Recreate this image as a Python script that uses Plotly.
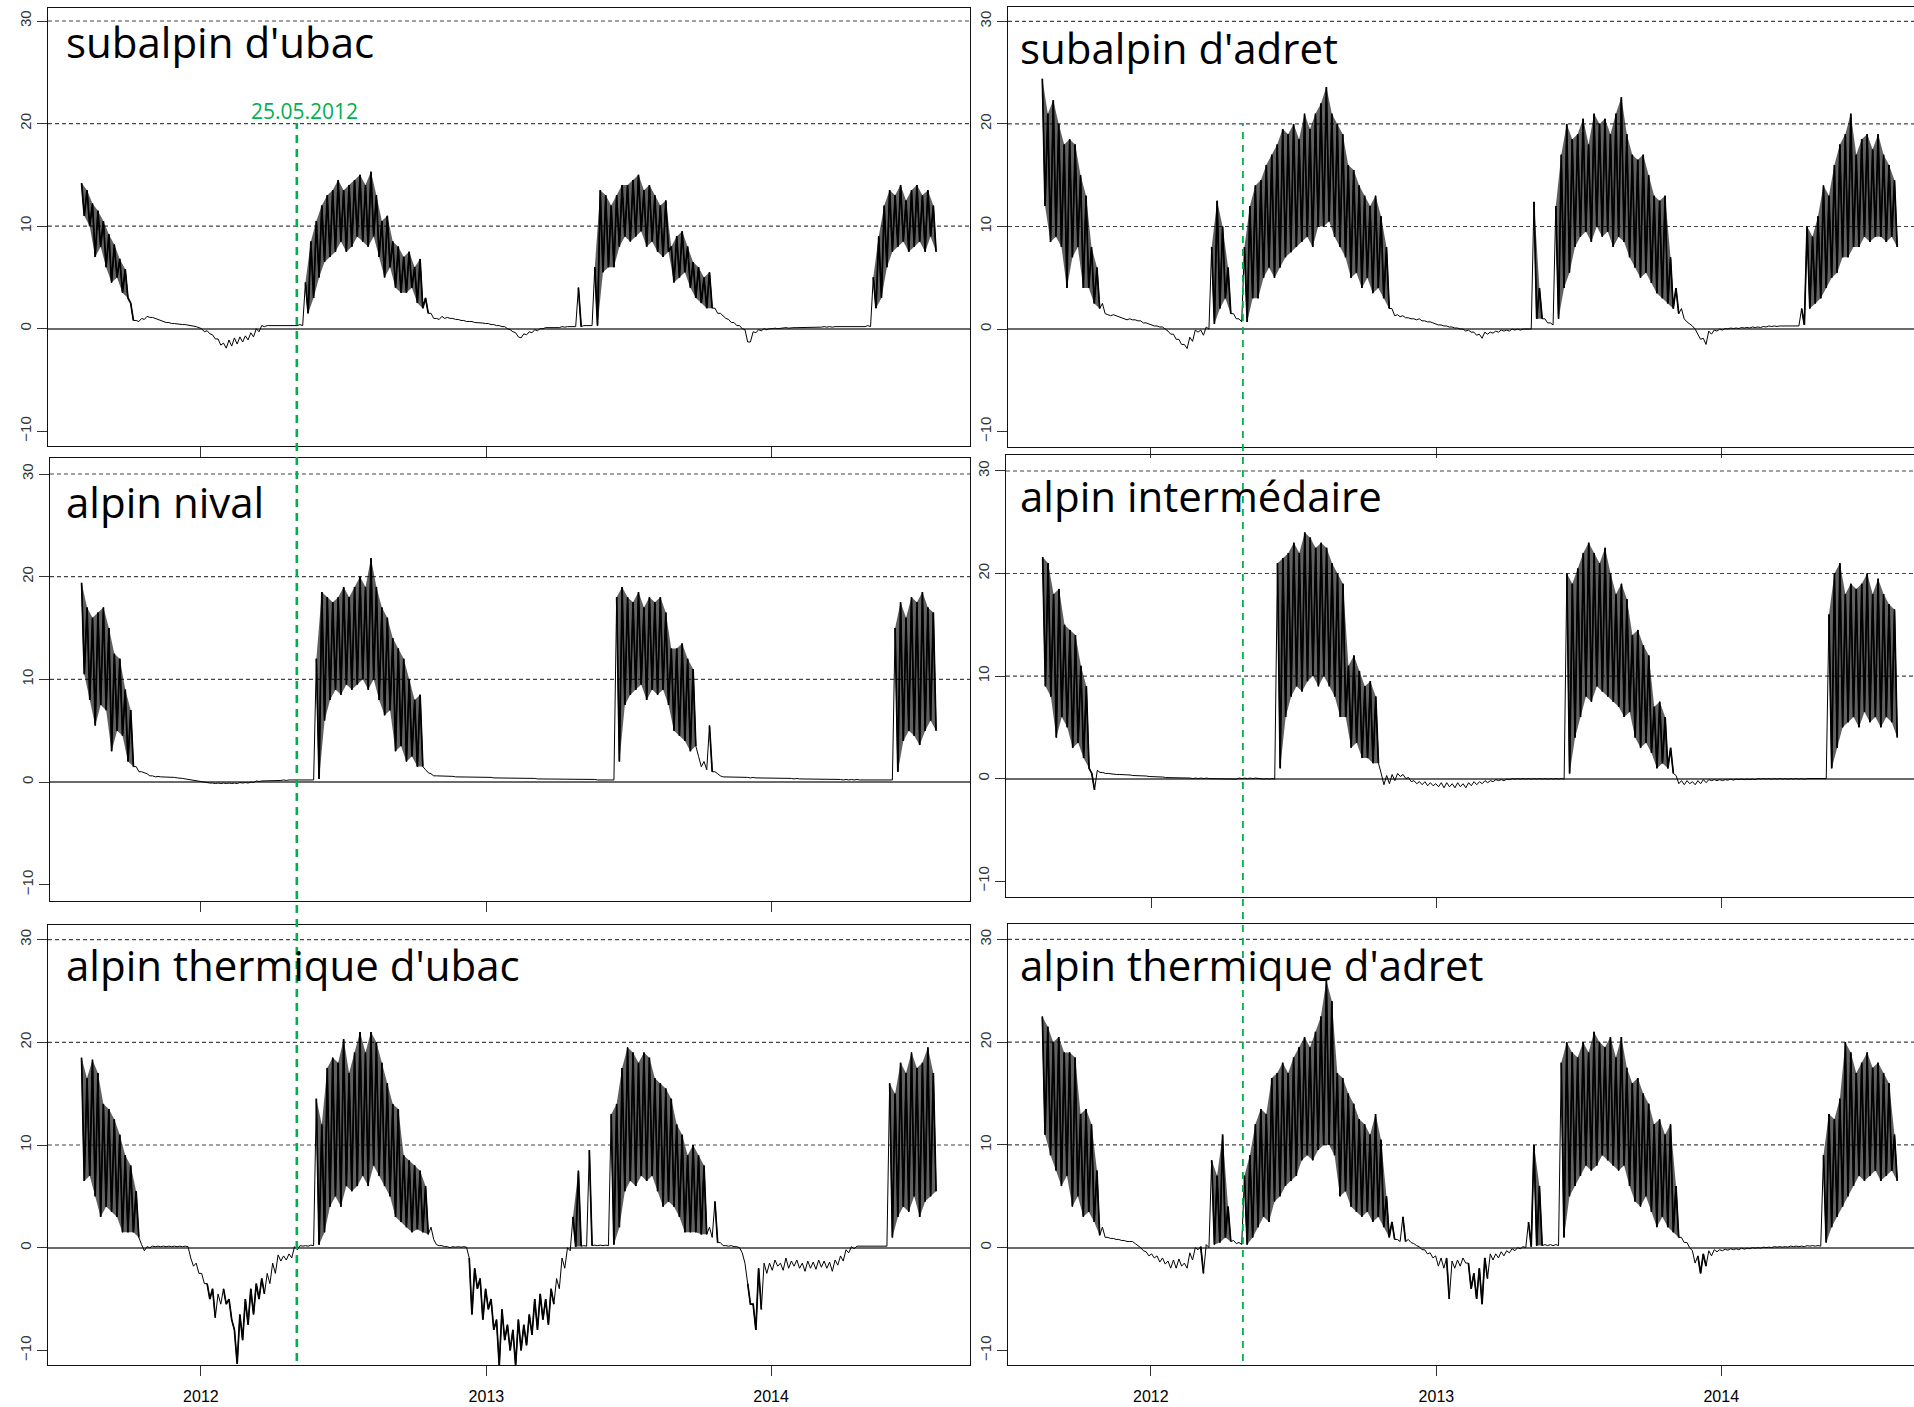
import pandas as pd
import plotly.graph_objects as go

# ---------------- data: weekly max / min soil temperature (°C) ----------------
weeks = pd.date_range("2011-08-01", periods=159, freq="7D")
half_week = pd.Timedelta(hours=84)

titles = ["subalpin d'ubac", "subalpin d'adret", "alpin nival",
          "alpin intermédaire", "alpin thermique d'ubac", "alpin thermique d'adret"]

event_label = "25.05.2012"
event_pos_left = "2012-05-03"
event_pos_right = "2012-04-28"

tick_years = ["2012-01-01", "2013-01-01", "2014-01-01"]
tick_text = ["2012", "2013", "2014"]
y_ticks = [-10, 0, 10, 20, 30]
dashed_levels = [10, 20, 30]

subalpin_ubac_hi = [
    14.2, 13.5, 12.2, 11.5, 10.5, 9.2, 8.2, 6.8, 5.8, 2.5,
    0.8, 1.0, 1.2, 1.1, 0.9, 0.7, 0.6, 0.5, 0.45, 0.4,
    0.3, 0.2, 0.0, -0.2, -0.6, -1.0, -1.4, -1.1, -0.9, -0.8,
    -0.7, -0.4, 0.0, 0.3, 0.3, 0.3, 0.3, 0.3, 0.3, 0.3,
    0.4, 4.5, 8.5, 10.5, 12.0, 13.0, 13.5, 14.5, 13.5, 14.0,
    14.5, 15.0, 14.0, 15.3, 13.0, 10.5, 11.0, 8.5, 8.0, 7.0,
    7.5, 6.0, 6.8, 3.0, 1.5, 1.0, 1.2, 1.1, 1.0, 0.9,
    0.8, 0.7, 0.6, 0.6, 0.5, 0.4, 0.3, 0.2, 0.0, -0.3,
    -0.8, -0.5, -0.3, -0.1, 0.0, 0.1, 0.1, 0.15, 0.2, 0.2,
    0.2, 4.0, 0.3, 0.3, 6.0, 13.5, 13.0, 12.0, 13.0, 14.0,
    14.0, 14.5, 15.0, 13.5, 14.0, 13.0, 12.0, 12.5, 8.0, 9.0,
    9.5, 8.0, 6.5, 6.0, 5.0, 5.5, 2.0, 1.5, 1.0, 0.6,
    0.3, 0.0, -1.3, -0.3, -0.1, 0.0, 0.0, 0.05, 0.05, 0.1,
    0.1, 0.1, 0.1, 0.15, 0.15, 0.15, 0.2, 0.2, 0.2, 0.2,
    0.2, 0.2, 0.2, 0.2, 0.3, 5.0, 9.0, 12.0, 13.5, 13.0,
    14.0, 12.5, 13.5, 14.0, 13.0, 13.5, 12.0, None, None]
subalpin_ubac_lo = [
    11.0, 10.0, 7.0, 8.0, 6.0, 4.5, 5.0, 3.5, 3.0, 0.8,
    0.7, 0.9, 1.1, 1.0, 0.8, 0.6, 0.5, 0.45, 0.4, 0.35,
    0.3, 0.1, -0.3, -0.5, -1.0, -1.6, -1.9, -1.7, -1.5, -1.3,
    -1.1, -0.8, -0.3, 0.2, 0.3, 0.3, 0.3, 0.3, 0.3, 0.3,
    0.3, 1.5, 3.0, 5.0, 6.5, 7.0, 7.5, 8.5, 7.5, 8.0,
    9.0, 8.5, 8.0, 9.0, 7.0, 5.0, 6.0, 4.0, 3.5, 3.5,
    4.0, 2.5, 2.0, 1.5, 1.0, 0.9, 1.0, 1.0, 0.9, 0.8,
    0.7, 0.7, 0.6, 0.55, 0.5, 0.4, 0.3, 0.2, -0.1, -0.4,
    -0.9, -0.6, -0.4, -0.2, 0.0, 0.1, 0.1, 0.1, 0.15, 0.2,
    0.2, 0.2, 0.3, 0.3, 0.3, 5.5, 6.0, 6.0, 8.0, 9.0,
    8.5, 9.0, 9.5, 8.0, 8.5, 7.5, 7.0, 7.5, 4.5, 5.0,
    5.5, 4.0, 3.0, 2.5, 2.0, 2.0, 1.5, 1.2, 0.9, 0.6,
    0.3, -0.1, -1.3, -0.4, -0.2, -0.1, 0.0, 0.0, 0.05, 0.05,
    0.1, 0.1, 0.1, 0.1, 0.15, 0.15, 0.15, 0.15, 0.2, 0.2,
    0.2, 0.2, 0.2, 0.2, 0.2, 2.0, 3.0, 6.0, 7.5, 8.0,
    8.5, 7.5, 8.0, 8.5, 7.5, 9.0, 7.5, None, None]

subalpin_adret_hi = [
    None, None, 24.4, 21.0, 22.3, 20.0, 18.0, 18.5, 18.0, 15.0,
    13.0, 8.0, 6.0, 2.5, 1.4, 1.4, 1.2, 1.0, 1.0, 0.9,
    0.8, 0.6, 0.4, 0.3, 0.2, -0.2, -0.5, -1.0, -1.5, -0.8,
    -0.1, -0.1, 0.2, 8.0, 12.5, 10.0, 6.0, 1.5, 1.0, 8.0,
    12.0, 14.0, 14.5, 16.0, 17.0, 18.0, 19.5, 19.0, 20.0, 18.5,
    21.0, 19.5, 21.0, 22.0, 23.6, 21.0, 20.0, 19.0, 16.0, 15.5,
    14.0, 13.0, 12.0, 13.0, 11.0, 8.0, 2.0, 1.4, 1.3, 1.1,
    1.0, 1.0, 0.8, 0.7, 0.5, 0.4, 0.3, 0.2, 0.1, 0.0,
    -0.1, -0.3, -0.5, -0.3, -0.3, -0.2, -0.1, -0.1, 0.0, 0.0,
    0.0, 0.0, 12.4, 4.0, 1.0, 0.6, 12.0, 17.0, 20.0, 18.5,
    19.0, 20.5, 18.0, 21.0, 20.0, 20.5, 19.0, 21.0, 22.6, 19.0,
    17.0, 16.5, 17.0, 15.0, 13.0, 12.5, 13.0, 7.0, 4.0, 2.0,
    0.7, 0.3, -0.5, -0.9, -0.2, -0.1, 0.0, 0.05, 0.1, 0.1,
    0.15, 0.15, 0.2, 0.2, 0.25, 0.3, 0.3, 0.3, 0.35, 0.35,
    0.35, 2.0, 10.0, 9.0, 11.0, 14.0, 13.0, 16.0, 18.0, 19.0,
    21.0, 17.0, 18.5, 19.0, 17.5, 19.0, 17.0, 16.0, 14.5]
subalpin_adret_lo = [
    None, None, 12.0, 8.5, 9.0, 8.0, 4.0, 7.0, 8.0, 4.0,
    4.0, 2.5, 2.0, 1.5, 1.3, 1.3, 1.1, 0.9, 0.9, 0.8,
    0.6, 0.5, 0.3, 0.2, 0.0, -0.5, -1.0, -1.5, -1.9, -1.2,
    -0.3, -0.6, 0.0, 0.5, 2.0, 3.0, 1.5, 1.0, 0.7, 0.7,
    3.0, 3.0, 5.0, 6.0, 5.0, 6.0, 7.0, 7.5, 8.0, 8.5,
    9.0, 8.0, 10.0, 10.0, 10.5, 9.0, 8.0, 7.0, 5.0, 5.5,
    4.0, 5.0, 3.5, 4.0, 3.0, 2.0, 1.3, 1.2, 1.1, 1.0,
    0.9, 0.8, 0.7, 0.6, 0.4, 0.3, 0.2, 0.1, 0.0, -0.2,
    -0.3, -0.6, -0.9, -0.5, -0.4, -0.3, -0.2, -0.2, -0.1, -0.1,
    0.0, 0.0, 1.0, 1.0, 0.6, 0.4, 1.0, 4.0, 5.5, 8.0,
    9.0, 9.5, 8.5, 10.0, 9.0, 9.5, 8.0, 9.0, 8.5, 7.0,
    6.0, 5.0, 5.5, 4.5, 3.5, 3.0, 2.5, 2.0, 1.5, 1.0,
    0.5, 0.0, -1.0, -1.5, -0.5, -0.2, -0.1, 0.0, 0.05, 0.05,
    0.1, 0.1, 0.15, 0.15, 0.2, 0.25, 0.25, 0.3, 0.3, 0.3,
    0.3, 0.4, 2.0, 2.5, 3.0, 4.0, 5.0, 5.5, 7.0, 7.0,
    8.0, 8.0, 9.0, 8.5, 9.0, 9.0, 8.5, 9.0, 8.0]

alpin_nival_hi = [
    19.4, 17.0, 16.0, 16.5, 17.0, 15.0, 12.5, 12.0, 9.0, 7.0,
    1.5, 1.0, 0.8, 0.6, 0.55, 0.5, 0.5, 0.45, 0.4, 0.3,
    0.2, 0.1, 0.0, -0.05, -0.1, -0.1, -0.1, -0.1, -0.1, -0.05,
    -0.05, 0.0, 0.1, 0.1, 0.15, 0.15, 0.15, 0.2, 0.2, 0.2,
    0.2, 0.2, 0.2, 12.0, 18.5, 18.0, 17.5, 18.0, 19.0, 18.0,
    19.0, 20.0, 19.0, 21.8, 19.0, 17.0, 16.0, 14.0, 13.0, 12.0,
    10.0, 8.0, 8.5, 1.2, 0.8, 0.6, 0.6, 0.55, 0.55, 0.5,
    0.5, 0.5, 0.5, 0.45, 0.45, 0.45, 0.4, 0.4, 0.4, 0.4,
    0.35, 0.35, 0.35, 0.35, 0.3, 0.3, 0.3, 0.3, 0.3, 0.3,
    0.25, 0.25, 0.25, 0.25, 0.25, 0.2, 0.2, 0.2, 18.0, 19.0,
    18.0, 17.5, 18.5, 17.0, 18.0, 17.5, 18.0, 16.5, 13.0, 13.0,
    13.5, 12.0, 11.0, 2.5, 2.0, 5.5, 1.0, 0.6, 0.5, 0.5,
    0.5, 0.45, 0.45, 0.45, 0.4, 0.4, 0.4, 0.4, 0.35, 0.35,
    0.35, 0.35, 0.3, 0.3, 0.3, 0.3, 0.3, 0.3, 0.25, 0.25,
    0.25, 0.25, 0.25, 0.2, 0.2, 0.2, 0.2, 0.2, 0.2, 15.0,
    17.5, 16.0, 18.0, 17.5, 18.5, 17.0, 16.5, None, None]
alpin_nival_lo = [
    10.5, 8.0, 5.5, 7.5, 7.0, 3.0, 5.0, 4.5, 2.0, 1.5,
    1.0, 0.9, 0.6, 0.5, 0.5, 0.5, 0.45, 0.4, 0.35, 0.25,
    0.15, 0.05, -0.05, -0.1, -0.15, -0.15, -0.15, -0.15, -0.15, -0.1,
    -0.1, -0.05, 0.05, 0.1, 0.1, 0.15, 0.15, 0.15, 0.2, 0.2,
    0.2, 0.2, 0.2, 0.3, 6.0, 8.0, 9.0, 8.5, 9.5, 9.0,
    9.5, 10.0, 9.0, 10.0, 8.0, 6.5, 7.0, 3.0, 3.5, 2.0,
    2.5, 1.5, 1.5, 0.9, 0.6, 0.6, 0.55, 0.55, 0.5, 0.5,
    0.5, 0.5, 0.45, 0.45, 0.45, 0.4, 0.4, 0.4, 0.4, 0.35,
    0.35, 0.35, 0.35, 0.3, 0.3, 0.3, 0.3, 0.3, 0.3, 0.25,
    0.25, 0.25, 0.25, 0.25, 0.2, 0.2, 0.2, 0.2, 2.0, 7.5,
    8.5, 9.0, 9.5, 8.0, 9.0, 8.5, 9.0, 7.5, 5.0, 4.5,
    4.0, 3.0, 3.5, 1.5, 1.2, 1.0, 0.8, 0.5, 0.5, 0.45,
    0.45, 0.45, 0.4, 0.4, 0.4, 0.4, 0.35, 0.35, 0.35, 0.35,
    0.3, 0.3, 0.3, 0.3, 0.3, 0.25, 0.25, 0.25, 0.25, 0.2,
    0.2, 0.2, 0.2, 0.2, 0.2, 0.2, 0.2, 0.2, 0.2, 1.0,
    4.0, 5.0, 4.5, 3.6, 5.0, 6.0, 5.0, None, None]

alpin_inter_hi = [
    None, None, 21.6, 21.0, 18.0, 18.5, 15.0, 14.5, 14.0, 11.0,
    9.0, 0.5, 0.8, 0.6, 0.5, 0.45, 0.4, 0.4, 0.35, 0.3,
    0.3, 0.25, 0.2, 0.2, 0.15, 0.1, 0.1, 0.1, 0.05, 0.05,
    0.05, 0.05, 0.05, 0.0, 0.0, 0.0, 0.0, 0.0, 0.05, 0.05,
    0.05, 0.05, 0.0, 0.0, 0.0, 21.0, 21.5, 22.0, 23.0, 22.0,
    24.0, 23.5, 22.5, 23.0, 22.5, 21.0, 20.0, 19.0, 11.0, 12.0,
    10.5, 9.0, 9.5, 8.0, 0.5, 0.3, 0.4, 0.5, 0.4, 0.1,
    -0.2, -0.3, -0.3, -0.4, -0.5, -0.4, -0.4, -0.5, -0.4, -0.5,
    -0.4, -0.3, -0.3, -0.2, -0.2, -0.1, -0.1, -0.05, 0.0, 0.0,
    0.0, 0.0, 0.0, 0.0, 0.0, 0.0, 0.0, 0.0, 20.0, 19.0,
    20.5, 22.0, 23.0, 22.0, 21.0, 22.5, 20.0, 18.0, 19.0, 17.5,
    14.0, 14.5, 13.0, 12.0, 7.0, 7.5, 6.0, 3.0, 0.3, -0.2,
    -0.2, -0.3, -0.2, -0.1, -0.1, -0.1, -0.1, -0.1, -0.05, -0.05,
    -0.05, -0.05, -0.05, 0.0, 0.0, 0.0, 0.0, 0.0, 0.0, 0.0,
    0.0, 0.0, 0.0, 0.0, 0.0, 0.0, 16.0, 20.0, 21.0, 18.0,
    19.0, 18.5, 19.0, 20.0, 18.0, 19.5, 18.0, 17.0, 16.5]
alpin_inter_lo = [
    None, None, 9.0, 8.0, 4.0, 6.0, 5.0, 3.0, 3.5, 2.0,
    1.0, -1.1, 0.6, 0.5, 0.45, 0.4, 0.4, 0.35, 0.3, 0.3,
    0.25, 0.2, 0.2, 0.15, 0.1, 0.1, 0.05, 0.05, 0.05, 0.0,
    0.0, 0.0, 0.0, -0.05, -0.05, -0.05, -0.05, -0.05, 0.0, 0.0,
    0.0, 0.0, -0.05, -0.05, -0.05, 1.0, 6.0, 8.0, 9.0, 8.5,
    9.5, 10.0, 9.0, 10.0, 9.0, 8.0, 6.0, 6.0, 3.0, 3.5,
    2.0, 2.0, 1.5, 1.5, -0.6, -0.5, -0.2, 0.2, 0.0, -0.3,
    -0.5, -0.6, -0.7, -0.7, -0.8, -0.9, -0.8, -0.9, -0.8, -0.9,
    -0.7, -0.6, -0.5, -0.4, -0.3, -0.2, -0.2, -0.1, -0.05, -0.05,
    -0.05, -0.05, -0.05, -0.05, -0.05, -0.05, -0.05, -0.05, 0.5, 4.0,
    6.0, 8.0, 7.5, 9.0, 8.5, 8.0, 7.5, 7.0, 6.0, 6.5,
    4.0, 3.0, 3.5, 2.5, 1.0, 1.5, 1.0, 0.5, -0.5, -0.6,
    -0.5, -0.6, -0.5, -0.4, -0.2, -0.2, -0.2, -0.15, -0.15, -0.1,
    -0.1, -0.1, -0.1, -0.05, -0.05, -0.05, -0.05, -0.05, -0.05, -0.05,
    -0.05, -0.05, 0.0, 0.0, 0.0, 0.0, 1.0, 3.0, 5.0, 5.5,
    6.0, 5.0, 6.5, 5.5, 6.0, 5.0, 6.0, 5.5, 4.0]

alpin_th_ubac_hi = [
    18.5, 16.5, 18.3, 17.0, 14.0, 13.5, 12.5, 11.0, 9.0, 8.0,
    5.5, 0.3, 0.1, 0.15, 0.15, 0.15, 0.15, 0.15, 0.15, 0.15,
    -1.0, -1.5, -2.5, -3.5, -4.0, -4.5, -4.0, -5.0, -8.0, -6.5,
    -5.0, -4.0, -3.5, -3.0, -2.5, -1.5, -0.7, -0.8, -0.6, 0.1,
    0.2, 0.2, 0.25, 14.5, 12.0, 17.5, 18.5, 18.0, 20.3, 17.0,
    19.0, 21.0, 19.0, 21.0, 20.0, 18.0, 16.0, 14.0, 13.5, 9.0,
    8.5, 8.0, 7.5, 6.0, 2.0, 0.3, 0.2, 0.1, 0.1, 0.1,
    0.1, -1.0, -2.0, -3.0, -4.0, -5.0, -7.0, -6.0, -7.5, -8.0,
    -7.0, -7.5, -6.5, -5.0, -4.5, -5.0, -4.0, -3.0, -1.0, 0.0,
    3.0, 7.5, 0.2, 9.5, 0.25, 0.25, 0.25, 13.0, 14.0, 17.5,
    19.5, 19.0, 18.0, 19.0, 18.5, 16.5, 16.0, 15.5, 14.5, 12.0,
    11.0, 9.0, 10.0, 9.0, 8.0, 2.0, 4.5, 0.5, 0.2, 0.2,
    0.1, -0.5, -3.5, -5.5, -2.0, -1.5, -1.5, -1.2, -1.5, -1.0,
    -1.3, -1.2, -1.5, -1.3, -1.4, -1.2, -1.3, -1.4, -1.2, -0.8,
    -0.2, 0.1, 0.15, 0.15, 0.15, 0.15, 0.15, 0.15, 16.0, 15.0,
    18.0, 17.0, 19.0, 17.5, 18.0, 19.5, 17.0, None, None]
alpin_th_ubac_lo = [
    6.5, 7.0, 5.0, 3.0, 4.0, 3.5, 3.0, 1.5, 1.5, 1.5,
    1.0, -0.3, 0.0, 0.1, 0.1, 0.1, 0.1, 0.1, 0.1, 0.1,
    -1.8, -2.5, -3.5, -5.0, -6.8, -5.5, -5.5, -7.0, -11.3, -9.0,
    -7.5, -6.5, -5.0, -4.5, -3.5, -2.5, -1.3, -1.2, -1.0, -0.2,
    0.15, 0.15, 0.2, 0.3, 1.5, 4.0, 5.0, 4.0, 6.0, 5.5,
    6.0, 7.0, 6.0, 8.0, 7.0, 6.0, 5.0, 3.0, 2.5, 2.0,
    1.5, 1.8, 1.5, 1.3, 0.8, 0.2, 0.1, 0.0, 0.05, 0.05,
    0.05, -6.5, -4.0, -7.0, -6.0, -8.0, -11.5, -9.0, -10.0, -11.5,
    -10.0, -9.5, -8.5, -8.0, -7.0, -7.5, -5.5, -4.0, -2.0, -0.3,
    0.1, 0.15, 0.15, 0.2, 0.2, 0.2, 0.2, 0.3, 2.0, 5.5,
    6.5, 6.0, 7.0, 6.5, 7.0, 5.5, 4.0, 4.5, 4.0, 3.0,
    1.5, 1.5, 1.5, 1.3, 1.3, 1.0, 0.5, 0.2, 0.15, 0.1,
    0.0, -1.5, -5.5, -8.0, -6.0, -2.5, -2.2, -1.8, -2.2, -2.0,
    -1.8, -2.0, -2.3, -2.0, -2.1, -1.9, -2.0, -2.3, -1.7, -1.3,
    -0.5, -0.1, 0.15, 0.15, 0.15, 0.15, 0.15, 0.15, 1.0, 3.0,
    4.0, 3.5, 5.0, 3.0, 4.5, 5.0, 5.5, None, None]

alpin_th_adret_hi = [
    None, None, 22.5, 21.5, 20.0, 20.5, 19.0, 19.0, 18.5, 13.0,
    13.5, 12.0, 7.5, 2.0, 1.0, 0.9, 0.8, 0.7, 0.6, 0.4,
    0.0, -0.4, -0.6, -0.8, -1.0, -1.3, -1.2, -1.1, -1.5, -0.5,
    0.0, 0.1, 0.3, 8.5, 7.0, 11.0, 4.0, 0.7, 0.5, 7.0,
    9.0, 12.0, 13.5, 13.0, 16.5, 17.0, 18.0, 17.0, 18.5, 19.5,
    20.5, 19.5, 21.0, 22.5, 26.0, 24.0, 17.0, 16.5, 15.0, 14.0,
    12.5, 12.0, 11.0, 13.0, 10.5, 5.0, 2.5, 0.8, 3.0, 0.8,
    0.4, 0.1, -0.2, -0.5, -0.8, -1.0, -1.0, -1.3, -1.2, -1.0,
    -1.5, -2.5, -2.0, -1.0, -0.6, -0.6, -0.4, -0.3, -0.1, 0.0,
    0.1, 2.5, 10.0, 6.0, 0.3, 0.3, 0.3, 18.0, 20.0, 19.0,
    18.5, 20.0, 19.0, 21.0, 20.0, 19.5, 20.5, 18.5, 20.5, 17.5,
    16.0, 16.5, 15.0, 14.0, 12.0, 12.5, 11.0, 12.0, 6.0, 1.0,
    0.5, -0.3, -0.8, -0.6, -0.3, -0.2, -0.2, -0.15, -0.1, -0.1,
    -0.05, -0.05, 0.0, 0.0, 0.05, 0.05, 0.1, 0.1, 0.1, 0.15,
    0.15, 0.15, 0.2, 0.2, 0.2, 9.0, 13.0, 12.5, 14.5, 20.0,
    19.0, 17.0, 18.0, 19.0, 17.5, 18.0, 17.0, 16.0, 11.0]
alpin_th_adret_lo = [
    None, None, 11.0, 9.0, 7.5, 6.0, 7.0, 4.0, 5.0, 3.0,
    3.5, 2.5, 1.2, 1.0, 0.9, 0.8, 0.7, 0.6, 0.6, 0.2,
    -0.3, -0.8, -1.0, -1.4, -1.6, -2.0, -2.0, -1.8, -2.0, -1.2,
    -0.2, -2.5, 0.0, 0.3, 0.5, 1.0, 0.6, 0.4, 0.3, 0.3,
    1.0, 2.0, 3.0, 2.5, 4.5, 5.0, 6.0, 6.5, 7.0, 8.5,
    9.0, 8.5, 9.5, 10.0, 10.0, 9.0, 5.0, 5.5, 4.0, 3.5,
    3.0, 3.5, 2.5, 3.0, 2.0, 1.0, 0.8, 0.6, 0.6, 0.5,
    0.2, -0.2, -0.6, -1.0, -1.8, -2.0, -5.0, -2.0, -1.8, -1.5,
    -4.0, -5.0, -5.5, -3.0, -1.2, -1.0, -0.8, -0.5, -0.3, -0.1,
    0.0, 0.1, 0.2, 0.2, 0.2, 0.2, 0.2, 1.0, 5.0, 6.0,
    7.0, 8.0, 7.5, 8.0, 9.0, 8.5, 8.0, 7.5, 8.0, 6.0,
    4.5, 4.0, 5.0, 3.5, 2.0, 3.0, 2.0, 1.5, 1.0, 0.5,
    0.0, -1.5, -2.5, -1.8, -0.8, -0.4, -0.3, -0.25, -0.2, -0.2,
    -0.15, -0.1, -0.05, -0.05, 0.0, 0.0, 0.05, 0.05, 0.05, 0.1,
    0.1, 0.1, 0.15, 0.15, 0.15, 0.5, 2.0, 3.0, 4.0, 5.0,
    6.0, 7.0, 6.5, 7.0, 7.5, 6.5, 7.0, 7.5, 6.5]

series_hi = [subalpin_ubac_hi, subalpin_adret_hi, alpin_nival_hi,
             alpin_inter_hi, alpin_th_ubac_hi, alpin_th_adret_hi]
series_lo = [subalpin_ubac_lo, subalpin_adret_lo, alpin_nival_lo,
             alpin_inter_lo, alpin_th_ubac_lo, alpin_th_adret_lo]

# ---------------- layout geometry (pixels of the 1914 x 1407 page) ----------------
W, H = 1914, 1407
boxes = [  # left, top, right, bottom
    (48, 8, 970, 446), (1008, 7, 1914, 447),
    (50, 458, 970, 901), (1006, 455, 1914, 897),
    (48, 925, 970, 1365), (1008, 924, 1914, 1365)]
x_ranges = [["2011-06-19", "2014-09-13"], ["2011-07-02", "2014-09-05"],
            ["2011-06-21 12:00", "2014-09-13"], ["2011-06-29", "2014-09-05"],
            ["2011-06-19", "2014-09-13"], ["2011-07-02", "2014-09-05"]]
y_ranges = [[-11.44, 31.27], [-11.5, 31.4], [-11.59, 31.56],
            [-11.55, 31.56], [-11.42, 31.42], [-11.42, 31.5]]
title_pos = [(64, 42), (1018, 48), (64, 502), (1018, 495), (64, 964), (1018, 964)]
wide_cycle = 1.2    # weeks whose daily cycle exceeds this (°C) get a heavier stroke
dense_cycle = 2.5   # thawed weeks with a larger cycle get the dense band shading

fig = go.Figure()
layout = dict(width=W, height=H, margin=dict(l=0, r=0, t=0, b=0),
              paper_bgcolor="white", plot_bgcolor="white", showlegend=False)
shapes, annotations = [], []


def segments(cond_weeks):
    """group consecutive week indices into runs"""
    runs, cur = [], []
    for k in cond_weeks:
        if cur and k != cur[-1] + 1:
            runs.append(cur)
            cur = []
        cur.append(k)
    if cur:
        runs.append(cur)
    return runs


for i in range(6):
    n = i + 1
    sfx = "" if n == 1 else str(n)
    hi, lo = series_hi[i], series_lo[i]
    valid = [k for k in range(len(weeks)) if hi[k] is not None]
    zx, zy = [], []
    for k in valid:
        zx += [weeks[k], weeks[k] + half_week]
        zy += [hi[k], lo[k]]

    # dense band shading for the thawed, strongly cycling periods
    bx, by = [], []
    for run in segments([k for k in valid if hi[k] - lo[k] > dense_cycle and lo[k] > -0.7]):
        if len(run) < 2:
            continue
        bx += [weeks[k] for k in run] + [weeks[k] + half_week for k in run[::-1]] + [None]
        by += [hi[k] for k in run] + [lo[k] for k in run[::-1]] + [None]
    fig.add_trace(go.Scatter(x=bx, y=by, mode="none", fill="toself",
                             fillcolor="rgba(0,0,0,0.62)", xaxis="x" + sfx, yaxis="y" + sfx,
                             hoverinfo="skip"))
    # the record itself (thin)
    fig.add_trace(go.Scatter(x=zx, y=zy, mode="lines", xaxis="x" + sfx, yaxis="y" + sfx,
                             line=dict(color="black", width=1.0), hoverinfo="skip"))
    # heavier strokes where the daily cycle is large
    hx, hy = [], []
    for run in segments([k for k in valid if hi[k] - lo[k] > wide_cycle]):
        for k in run:
            hx += [weeks[k], weeks[k] + half_week]
            hy += [hi[k], lo[k]]
        hx.append(None)
        hy.append(None)
    fig.add_trace(go.Scatter(x=hx, y=hy, mode="lines", xaxis="x" + sfx, yaxis="y" + sfx,
                             line=dict(color="black", width=1.7), hoverinfo="skip",
                             connectgaps=False))
    l, t, r, b = boxes[i]
    left_col = (i % 2 == 0)
    bottom_row = i >= 4
    layout["xaxis" + sfx] = dict(
        domain=[l / W, r / W], anchor="y" + sfx, type="date", range=x_ranges[i],
        showgrid=False, zeroline=False, showline=True, linecolor="#111", linewidth=1.4,
        mirror=True, ticks="outside", ticklen=10, tickcolor="#333", tickwidth=1.2,
        tickvals=tick_years, ticktext=tick_text, showticklabels=bottom_row,
        ticklabelstandoff=7,
        tickfont=dict(family="Liberation Sans, Arial", size=16, color="black"))
    layout["yaxis" + sfx] = dict(
        domain=[1 - b / H, 1 - t / H], anchor="x" + sfx, range=y_ranges[i],
        showgrid=False, zeroline=True, zerolinecolor="#6a6a6a", zerolinewidth=1.8,
        showline=True, linecolor="#111", linewidth=1.4, mirror=left_col,
        ticks="outside", ticklen=10, tickcolor="#333", tickwidth=1.2,
        tickvals=y_ticks, tickangle=-90,
        tickfont=dict(family="Liberation Sans, Arial", size=15, color="#333"))
    for lev in dashed_levels:
        shapes.append(dict(type="line", xref=f"x{sfx} domain", yref="y" + sfx,
                           x0=0, x1=1, y0=lev, y1=lev, layer="below",
                           line=dict(color="#444", width=1.2, dash="4px,3px")))
    tx, ty = title_pos[i]
    annotations.append(dict(text=titles[i], xref="paper", yref="paper",
                            x=tx / W, y=1 - ty / H, xanchor="left", yanchor="middle",
                            showarrow=False,
                            font=dict(family="Open Sans", size=42, color="black")))

# event marker (green dashed line spanning each column)
shapes.append(dict(type="line", xref="x", yref="paper", x0=event_pos_left, x1=event_pos_left,
                   y0=1 - 1361 / H, y1=1 - 123 / H,
                   line=dict(color="#00B050", width=2.6, dash="8px,6px")))
shapes.append(dict(type="line", xref="x2", yref="paper", x0=event_pos_right, x1=event_pos_right,
                   y0=1 - 1361 / H, y1=1 - 123 / H,
                   line=dict(color="#00B050", width=1.8, dash="7px,6px")))
annotations.append(dict(text=event_label, xref="x", yref="paper", x=event_pos_left,
                        y=1 - 111 / H, xanchor="center", yanchor="middle", xshift=8,
                        showarrow=False,
                        font=dict(family="Open Sans", size=21, color="#00B050")))

layout["shapes"] = shapes
layout["annotations"] = annotations
fig.update_layout(**layout)

fig.write_html("out.html", config={"displayModeBar": False},
               post_script="document.body.style.margin='0';document.body.style.overflow='hidden';")
